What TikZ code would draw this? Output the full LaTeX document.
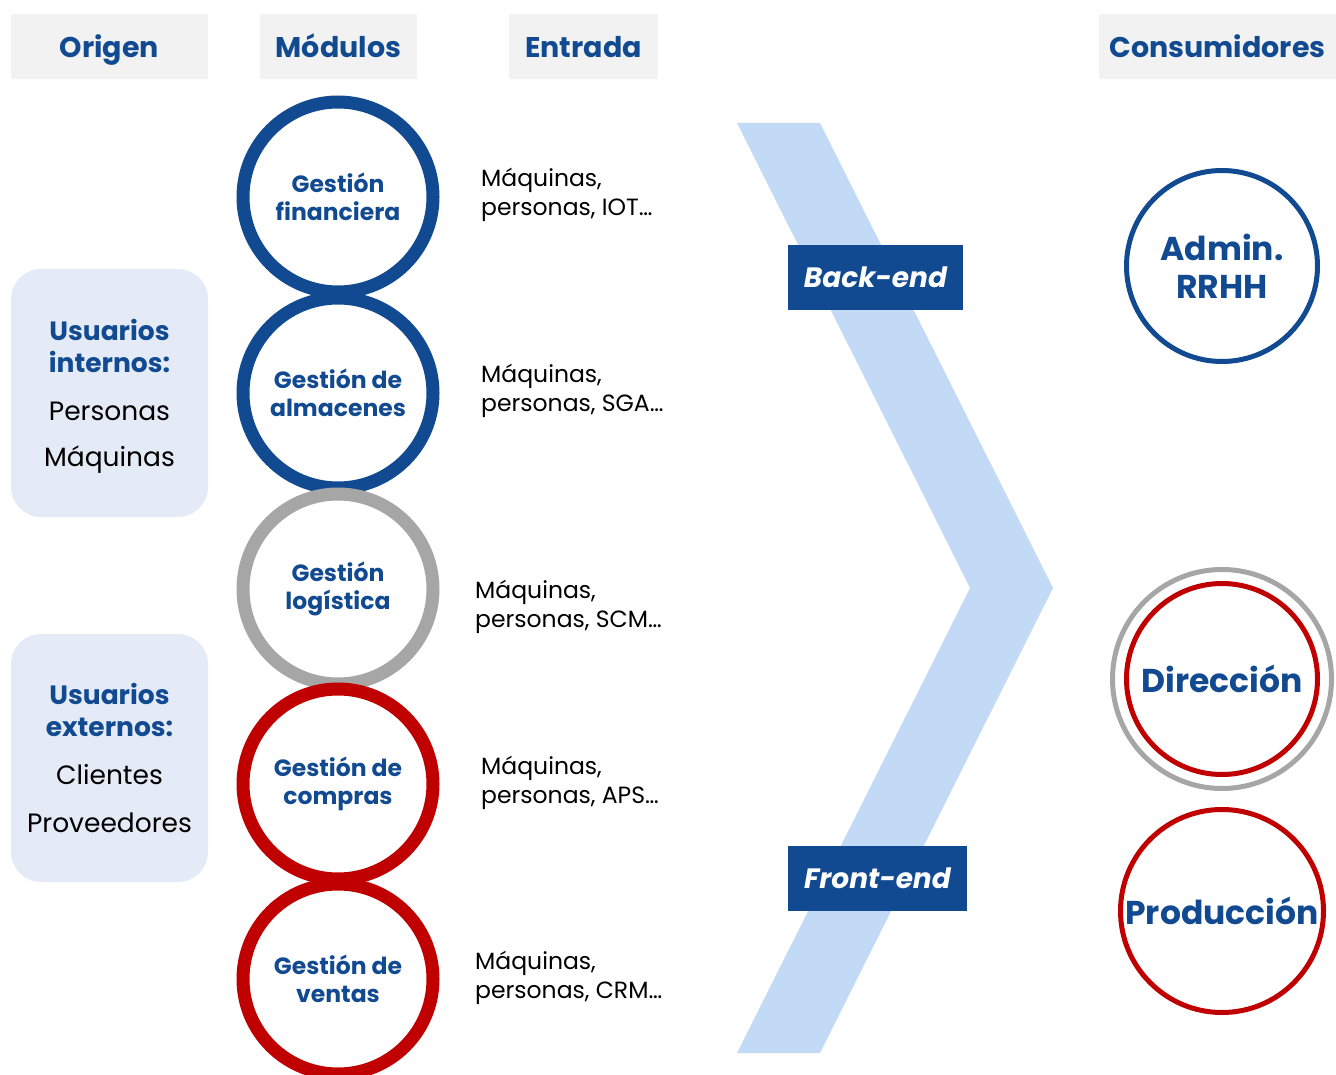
\documentclass[tikz,border=0pt]{standalone}
\usepackage{fontspec}
\setmainfont{Poppins}
\definecolor{dblue}{RGB}{18,74,145}
\definecolor{dred}{RGB}{192,0,0}
\definecolor{lgray}{RGB}{166,166,166}
\definecolor{hdrfill}{RGB}{242,242,242}
\definecolor{boxfill}{RGB}{228,234,246}
\definecolor{chev}{RGB}{195,218,246}
\begin{document}
\begin{tikzpicture}[x=1pt,y=-1pt,
  hdr/.style={fill=hdrfill, minimum height=65pt, inner sep=0pt, text height=24pt, text depth=2pt, text=dblue, font=\fontsize{28.5}{32}\selectfont\bfseries},
  usr/.style={fill=boxfill, rounded corners=30pt, minimum width=197pt, minimum height=248pt, inner sep=0pt, align=center},
  mod/.style={circle, draw, line width=13pt, minimum size=190pt, inner sep=0pt, align=center, text=dblue, font=\fontsize{23.5}{28.5}\selectfont\bfseries},
  entry/.style={anchor=west, align=left, inner sep=0pt, font=\fontsize{23.5}{29}\selectfont},
  tag/.style={fill=dblue, text=white, inner sep=0pt, font=\fontsize{28}{32}\selectfont\bfseries\itshape},
  cons/.style={circle, draw, line width=5pt, inner sep=0pt, align=center, text=dblue, font=\fontsize{33}{38}\selectfont\bfseries}
]
\useasboundingbox (0,0) rectangle (1336,1075);
% headers
\node[hdr, minimum width=197pt] (hOrigen) at (109.5,46.5) {Origen};
\node[hdr, minimum width=157pt] (hModulos) at (338.5,46.5) {Módulos};
\node[hdr, minimum width=149pt] (hEntrada) at (583.5,46.5) {Entrada};
\node[hdr, minimum width=237pt] (hCons) at (1217.5,46.5) {Consumidores};
% chevron
\fill[chev] (737,123) -- (820,123) -- (1053,588) -- (820,1053) -- (737,1053) -- (970,588) -- cycle;
% user boxes
\node[usr] (uInt) at (109.5,393) {};
\node[text=dblue, align=center, font=\fontsize{26.5}{32}\selectfont\bfseries] (uIntT) at (109.5,346) {Usuarios\\internos:};
\node[font=\fontsize{26.5}{30}\selectfont] (uIntP) at (109.5,411) {Personas};
\node[font=\fontsize{26.5}{30}\selectfont] (uIntM) at (109.5,460) {Máquinas};
\node[usr] (uExt) at (109.5,758) {};
\node[text=dblue, align=center, font=\fontsize{26.5}{32}\selectfont\bfseries] (uExtT) at (109.5,710) {Usuarios\\externos:};
\node[font=\fontsize{26.5}{30}\selectfont] (uExtC) at (109.5,775) {Clientes};
\node[font=\fontsize{26.5}{30}\selectfont] (uExtP) at (109.5,823) {Proveedores};
% modules
\node[mod, draw=dblue] (m1) at (338,197) {Gestión\\financiera};
\node[mod, draw=dblue] (m2) at (338,393) {Gestión de\\almacenes};
\node[mod, draw=lgray] (m3) at (338,589) {Gestión\\logística};
\node[mod, draw=dred] (m4) at (338,784) {Gestión de\\compras};
\node[mod, draw=dred] (m5) at (338,979) {Gestión de\\ventas};
% entries
\node[entry] (e1) at (481,195) {Máquinas,\\personas, IOT…};
\node[entry] (e2) at (481,391) {Máquinas,\\personas, SGA…};
\node[entry] (e3) at (475,607) {Máquinas,\\personas, SCM…};
\node[entry] (e4) at (481,783) {Máquinas,\\personas, APS…};
\node[entry] (e5) at (475,978) {Máquinas,\\personas, CRM…};
% tags
\node[tag, minimum width=175pt, minimum height=65pt] (back) at (875.5,277.5) {Back-end};
\node[tag, minimum width=179pt, minimum height=65pt] (front) at (877.5,878.5) {Front-end};
% consumers
\node[cons, draw=dblue, minimum size=191pt] (c1) at (1222,266) {Admin.\\RRHH};
\node[circle, draw=lgray, line width=5pt, minimum size=219pt] (c2o) at (1222,679) {};
\node[cons, draw=dred, minimum size=191pt] (c2) at (1222,679) {Dirección};
\node[cons, draw=dred, minimum size=203pt] (c3) at (1222,911) {Producción};
\end{tikzpicture}
\end{document}
